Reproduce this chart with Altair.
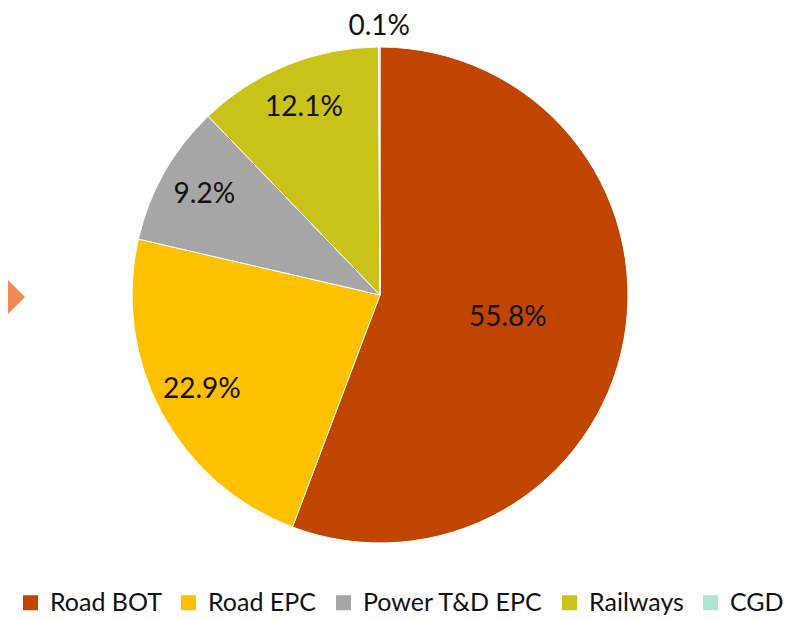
import altair as alt
import pandas as pd

categories = ["Road BOT", "Road EPC", "Power T&D EPC", "Railways", "CGD"]
shares = [55.8, 22.9, 9.2, 12.1, 0.1]
labels = ["55.8%", "22.9%", "9.2%", "12.1%", "0.1%"]
colors = ["#BF4500", "#FFC000", "#A6A6A6", "#C9C218", "#B0E3D0"]

df = pd.DataFrame({
    "category": categories,
    "share": shares,
    "label": labels,
    "idx": list(range(len(categories))),
})

FONT = "Lato"
R = 248
W, H = 744, 574          # pie centre sits at W/2, H/2

pie = alt.Chart(df).mark_arc(stroke="white", strokeWidth=1).encode(
    theta=alt.Theta("share:Q", stack=True),
    order=alt.Order("idx:Q"),
    radius=alt.value(R),
    color=alt.Color(
        "category:N",
        scale=alt.Scale(domain=categories, range=colors),
        sort=categories,
        legend=alt.Legend(
            title=None,
            orient="none",
            direction="horizontal",
            legendX=10,
            legendY=582,
            symbolType="square",
            symbolSize=225,
            symbolStrokeWidth=0,
            labelFont=FONT,
            labelFontSize=25,
            labelColor="#111111",
            columnPadding=14,
            symbolOffset=0,
            labelOffset=7,
            labelLimit=300,
        ),
    ),
)

texts = (
    alt.Chart(df)
    .transform_joinaggregate(total="sum(share)")
    .transform_window(cum="sum(share)", sort=[alt.SortField("idx", order="ascending")],
                      frame=[None, 0])
    .transform_calculate(
        mid="2*PI*(datum.cum - datum.share/2)/datum.total",
        r="datum.category == 'Road BOT' ? 130 : (datum.category == 'CGD' ? 268 : 202)",
    )
    .mark_text(font=FONT, fontSize=28, color="#111111")
    .encode(
        theta=alt.Theta("mid:Q", scale=None),
        radius=alt.Radius("r:Q", scale=None),
        text="label:N",
    )
)

deco = alt.Chart(df).mark_point(
    shape="diamond", filled=True, color="#EF8A55", opacity=1, size=2500
).encode(x=alt.value(-8), y=alt.value(289)).transform_filter(alt.datum.idx == 0)

chart = (
    alt.layer(deco, pie, texts)
    .properties(
        width=W, height=H,
        padding={"left": 0, "top": 0, "right": 782 - W, "bottom": 611 - H},
        autosize=alt.AutoSizeParams(type="none"),
        background="white",
    )
    .configure_view(stroke=None)
)

chart.save("out.html", embed_options={"renderer": "svg", "actions": False})
